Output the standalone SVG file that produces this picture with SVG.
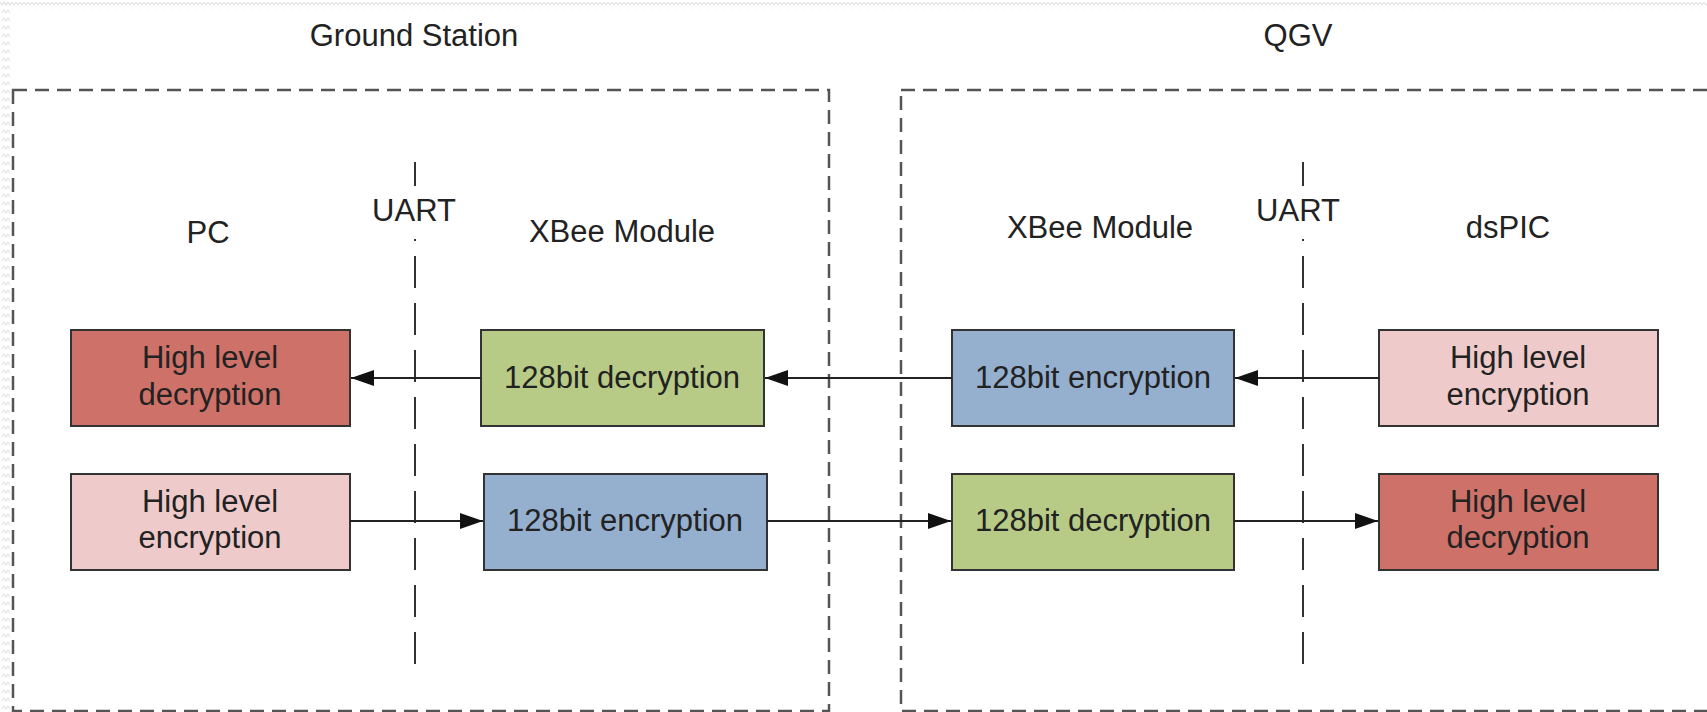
<svg xmlns="http://www.w3.org/2000/svg" width="1707" height="712" viewBox="0 0 1707 712">
<style>
text{font-family:"Liberation Sans",Arial,sans-serif;font-size:31px;fill:#222;text-anchor:middle}
.frame{fill:none;stroke:#555;stroke-width:2.5;stroke-dasharray:14 8}
.uart{stroke:#333;stroke-width:2;stroke-dasharray:32 15}
.box{stroke:#333;stroke-width:2}
.red{fill:#CE7168}.pink{fill:#EECBCA}.green{fill:#B7CB87}.blue{fill:#95AFCF}
.conn{stroke:#222;stroke-width:2;fill:none;marker-end:url(#arr)}
</style>
<defs>
<marker id="arr" markerUnits="userSpaceOnUse" markerWidth="24" markerHeight="18" refX="23" refY="8" orient="auto">
<path d="M0,0 L23,8 L0,16 z" fill="#111"/>
</marker>
<pattern id="zig" width="8" height="8" patternUnits="userSpaceOnUse">
<polyline points="0,2 2,5 4,2 6,5 8,2" fill="none" stroke="#e4e4e4" stroke-width="1.2"/>
</pattern>
</defs>
<rect width="1707" height="712" fill="#fff"/>
<rect x="0" y="2" width="1707" height="8" fill="url(#zig)"/>
<rect x="2" y="0" width="8" height="712" fill="url(#zig)" transform="rotate(0)"/>

<g id="ground-station">
<rect class="frame" x="13" y="90" width="816" height="621"/>
<text x="414" y="46">Ground Station</text>
</g>
<g id="qgv">
<rect class="frame" x="901" y="90" width="830" height="621"/>
<text x="1298" y="46">QGV</text>
</g>

<g id="uart-left">
<line class="uart" x1="415" y1="162" x2="415" y2="675"/>
<rect x="395" y="186" width="40" height="53" fill="#fff"/>
<text x="414" y="221">UART</text>
</g>
<g id="uart-right">
<line class="uart" x1="1303" y1="162" x2="1303" y2="675"/>
<rect x="1283" y="186" width="40" height="53" fill="#fff"/>
<text x="1298" y="221">UART</text>
</g>

<g id="label-pc"><text x="208" y="243">PC</text></g>
<g id="label-xbee-left"><text x="622" y="242">XBee Module</text></g>
<g id="label-xbee-right"><text x="1100" y="238">XBee Module</text></g>
<g id="label-dspic"><text x="1508" y="238">dsPIC</text></g>

<g id="pc-decrypt">
<rect class="box red" x="71" y="330" width="279" height="96"/>
<text x="210" y="368">High level</text>
<text x="210" y="405">decryption</text>
</g>
<g id="gs-xbee-decrypt">
<rect class="box green" x="481" y="330" width="283" height="96"/>
<text x="622" y="388">128bit decryption</text>
</g>
<g id="qgv-xbee-encrypt">
<rect class="box blue" x="952" y="330" width="282" height="96"/>
<text x="1093" y="388">128bit encryption</text>
</g>
<g id="dspic-encrypt">
<rect class="box pink" x="1379" y="330" width="279" height="96"/>
<text x="1518" y="368">High level</text>
<text x="1518" y="405">encryption</text>
</g>

<g id="pc-encrypt">
<rect class="box pink" x="71" y="474" width="279" height="96"/>
<text x="210" y="512">High level</text>
<text x="210" y="548">encryption</text>
</g>
<g id="gs-xbee-encrypt">
<rect class="box blue" x="484" y="474" width="283" height="96"/>
<text x="625" y="531">128bit encryption</text>
</g>
<g id="qgv-xbee-decrypt">
<rect class="box green" x="952" y="474" width="282" height="96"/>
<text x="1093" y="531">128bit decryption</text>
</g>
<g id="dspic-decrypt">
<rect class="box red" x="1379" y="474" width="279" height="96"/>
<text x="1518" y="512">High level</text>
<text x="1518" y="548">decryption</text>
</g>

<g id="connectors">
<line class="conn" x1="481" y1="378" x2="351" y2="378"/>
<line class="conn" x1="952" y1="378" x2="765" y2="378"/>
<line class="conn" x1="1379" y1="378" x2="1235" y2="378"/>
<line class="conn" x1="350" y1="521" x2="483" y2="521"/>
<line class="conn" x1="767" y1="521" x2="951" y2="521"/>
<line class="conn" x1="1234" y1="521" x2="1378" y2="521"/>
</g>
</svg>
